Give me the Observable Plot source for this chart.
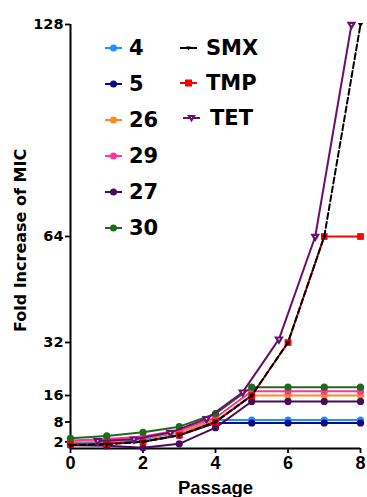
<!DOCTYPE html>
<html><head><meta charset="utf-8">
<script src="https://cdn.jsdelivr.net/npm/d3@7"></script>
<script src="https://cdn.jsdelivr.net/npm/@observablehq/plot@0.6"></script>
<style>
body{margin:0;background:#fff;}
#wrap{position:relative;width:367px;height:497px;overflow:hidden;font-family:Arial,"Liberation Sans",Helvetica,sans-serif;}
.leg{position:absolute;display:flex;align-items:center;font-family:"DejaVu Sans",Arial,sans-serif;font-weight:bold;font-size:21px;line-height:1;color:#000;height:20px;}
.leg svg{display:block;}
</style></head><body><div id="wrap"></div><script>
// ---- data ----
const passages = [0, 1, 2, 3, 4, 5, 6, 7, 8];
const xTicks = [0, 2, 4, 6, 8];
const yTicks = [2, 8, 16, 32, 64, 128];

const isolateNames = ["4", "5", "26", "29", "27", "30"];
const isolateColors = ["#1E90FF", "#0A0A8A", "#FF8C1A", "#FF3399", "#4A0A5C", "#1E6B1E"];
const s4  = [1.8, 2.2, 2.8, 4.8, 8.6, 8.6, 8.6, 8.6, 8.6];
const s5  = [1.2, 1.5, 2.1, 4.0, 7.7, 7.7, 7.7, 7.7, 7.7];
const s26 = [2.0, 2.4, 3.1, 5.0, 8.3, 16.0, 16.0, 16.0, 16.0];
const s29 = [2.4, 2.9, 3.6, 5.5, 9.3, 17.3, 17.3, 17.3, 17.3];
const s27 = [1.0, 0.8, 0.2, 1.4, 6.3, 14.2, 14.2, 14.2, 14.2];
const s30 = [3.1, 3.8, 4.9, 6.6, 10.5, 18.5, 18.5, 18.5, 18.5];
const isolateValues = [s4, s5, s26, s29, s27, s30];

const drugNames = ["SMX", "TMP", "TET"];
const drugColors = ["#000000", "#FF0000", "#6B0F6B"];
const smx = [1.0, 1.3, 2.0, 4.0, 8.0, 16.0, 32, 64, 128];
const tmp = [1.3, 1.5, 2.0, 4.0, 8.0, 16.0, 32, 64, 64];
const tetPassages = [1, 2, 3, 4, 5, 6, 7, 8];
const tet = [2.3, 2.8, 4.8, 9.0, 17.0, 33, 64, 128];

// ---- build tables ----
const rows = (xs, ys, name) => xs.map((p, i) => ({passage: p, value: ys[i], series: name}));
const isolateData = isolateNames.map((n, k) => rows(passages, isolateValues[k], n));
const smxData = rows(passages, smx, "SMX");
const tmpData = rows(passages, tmp, "TMP");
const tetData = rows(tetPassages, tet, "TET");

const marks = [];
isolateData.forEach((d, k) => {
  marks.push(Plot.line(d, {x: "passage", y: "value", stroke: isolateColors[k], strokeWidth: 2}));
  marks.push(Plot.dot(d, {x: "passage", y: "value", fill: isolateColors[k], r: 3.6, symbol: "circle"}));
});
marks.push(Plot.line(tmpData, {x: "passage", y: "value", stroke: drugColors[1], strokeWidth: 2}));
marks.push(Plot.dot(tmpData, {x: "passage", y: "value", fill: drugColors[1], r: 3.8, symbol: "square"}));
marks.push(Plot.line(smxData, {x: "passage", y: "value", stroke: drugColors[0], strokeWidth: 2, strokeDasharray: "6,3"}));
marks.push(Plot.dot(smxData, {x: "passage", y: "value", fill: drugColors[0], r: 2, symbol: "triangle", rotate: 180}));
marks.push(Plot.line(tetData, {x: "passage", y: "value", stroke: drugColors[2], strokeWidth: 2, dx: -9}));
marks.push(Plot.dot(tetData, {x: "passage", y: "value", fill: "white", stroke: drugColors[2], strokeWidth: 2.2, r: 2.2, symbol: "triangle", rotate: 180, dx: -9}));

const chart = Plot.plot({
  width: 367, height: 497,
  marginTop: 24, marginBottom: 49, marginLeft: 70, marginRight: 7,
  x: {domain: [0, 8]},
  y: {domain: [0, 128]},
  style: {fontFamily: 'Arial, "Liberation Sans", Helvetica, sans-serif', background: "white", color: "black"},
  marks: [
    Plot.ruleX([0], {stroke: "black", strokeWidth: 2}),
    Plot.ruleY([0], {stroke: "black", strokeWidth: 2}),
    Plot.axisX(xTicks, {tickSize: 5, tickPadding: 3, fontSize: 18, fontWeight: "bold", strokeWidth: 1.8, label: null}),
    Plot.axisY(yTicks, {tickSize: 5, tickPadding: 2, fontSize: 14.5, fontWeight: "bold", fontFamily: '"DejaVu Sans", Arial, sans-serif', strokeWidth: 1.8, label: null}),
    Plot.text(["Fold Increase of MIC"], {text: d => d, frameAnchor: "left", textAnchor: "middle", rotate: -90, dx: -50, dy: 4, fontSize: 16, fontWeight: "bold", fontFamily: '"DejaVu Sans", Arial, sans-serif', lineAnchor: "middle"}),
    Plot.text(["Passage"], {text: d => d, frameAnchor: "bottom", dy: 40, fontSize: 18.5, fontWeight: "bold", lineAnchor: "middle"}),
    ...marks
  ]
});
const wrap = document.getElementById("wrap");
wrap.appendChild(chart);

// ---- legend (HTML overlay) ----
function sampleSvg(color, kind) {
  const ns = "http://www.w3.org/2000/svg";
  const s = document.createElementNS(ns, "svg");
  s.setAttribute("width", 17); s.setAttribute("height", 12);
  const l = document.createElementNS(ns, "line");
  l.setAttribute("x1", 0); l.setAttribute("x2", 17); l.setAttribute("y1", 6); l.setAttribute("y2", 6);
  l.setAttribute("stroke", color); l.setAttribute("stroke-width", 2);
  s.appendChild(l);
  let m;
  if (kind === "circle") {
    m = document.createElementNS(ns, "circle");
    m.setAttribute("cx", 8.5); m.setAttribute("cy", 6); m.setAttribute("r", 3.5); m.setAttribute("fill", color);
  } else if (kind === "square") {
    m = document.createElementNS(ns, "rect");
    m.setAttribute("x", 5); m.setAttribute("y", 2.5); m.setAttribute("width", 7); m.setAttribute("height", 7); m.setAttribute("fill", color);
  } else if (kind === "tri") {
    m = document.createElementNS(ns, "path");
    m.setAttribute("d", "M6,4.5 L11,4.5 L8.5,8.5 Z"); m.setAttribute("fill", color);
  } else {
    m = document.createElementNS(ns, "path");
    m.setAttribute("d", "M6,4 L11,4 L8.5,8.2 Z"); m.setAttribute("fill", "white");
    m.setAttribute("stroke", color); m.setAttribute("stroke-width", 2.2);
  }
  s.appendChild(m);
  return s;
}
const col1Top = [48, 84, 120, 156, 192, 228];
isolateNames.forEach((n, k) => {
  const d = document.createElement("div");
  d.className = "leg";
  d.style.left = "105px"; d.style.top = (col1Top[k] - 10) + "px";
  d.appendChild(sampleSvg(isolateColors[k], "circle"));
  const t = document.createElement("span"); t.textContent = n; t.style.marginLeft = "7px";
  d.appendChild(t);
  wrap.appendChild(d);
});
const col2Top = [48, 83, 118];
const col2Left = [180, 180, 183];
const col2Gap = [9, 9, 10];
const kinds = ["tri", "square", "open"];
drugNames.forEach((n, k) => {
  const d = document.createElement("div");
  d.className = "leg";
  d.style.left = col2Left[k] + "px"; d.style.top = (col2Top[k] - 10) + "px";
  d.appendChild(sampleSvg(drugColors[k], kinds[k]));
  const t = document.createElement("span"); t.textContent = n; t.style.marginLeft = col2Gap[k] + "px";
  d.appendChild(t);
  wrap.appendChild(d);
});
</script></body></html>
